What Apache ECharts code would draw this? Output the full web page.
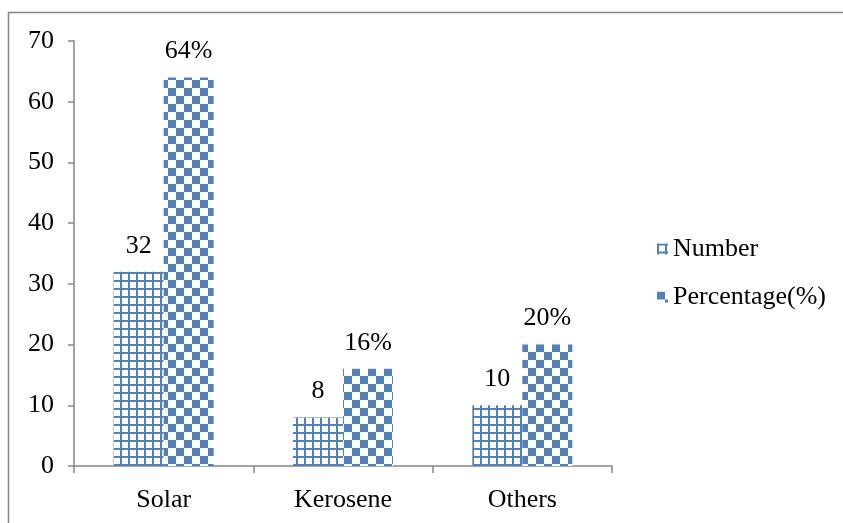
<!DOCTYPE html>
<html><head><meta charset="utf-8">
<script src="https://cdn.jsdelivr.net/npm/echarts@6/dist/echarts.min.js"></script>
<style>html,body{margin:0;padding:0;background:#fff}#c{width:843px;height:523px}</style>
</head><body><div id="c"></div>
<script>
const categories = ['Solar', 'Kerosene', 'Others'];
const numberValues = [32, 8, 10];
const percentValues = [64, 16, 20];
const yTicks = [0, 10, 20, 30, 40, 50, 60, 70];

const BLUE = '#4F81BD';
function gridPattern() {
  const c = document.createElement('canvas');
  c.width = 8; c.height = 8;
  const g = c.getContext('2d');
  g.fillStyle = '#fff'; g.fillRect(0, 0, 8, 8);
  g.fillStyle = BLUE;
  g.fillRect(0, 0, 2, 8);
  g.fillRect(0, 0, 8, 2);
  return c;
}
function checkerPattern() {
  const c = document.createElement('canvas');
  c.width = 16; c.height = 16;
  const g = c.getContext('2d');
  g.fillStyle = '#fff'; g.fillRect(0, 0, 16, 16);
  g.fillStyle = BLUE;
  g.fillRect(0, 0, 8, 8);
  g.fillRect(8, 8, 8, 8);
  return c;
}
const FONT = 'Liberation Serif';
const FS = 26;
const chart = echarts.init(document.getElementById('c'), null, {renderer: 'canvas'});
chart.setOption({
  backgroundColor: '#fff',
  animation: false,
  textStyle: {fontFamily: FONT},
  graphic: [{
    type: 'rect', shape: {x: 8.5, y: 12.5, width: 1000, height: 1000},
    style: {fill: 'none', stroke: '#868686', lineWidth: 1.5}, z: -1
  }],
  grid: {left: 74, right: 231, top: 41, bottom: 57},
  legend: {
    orient: 'vertical', left: 652, top: 231, itemGap: 22,
    itemWidth: 11, itemHeight: 11, icon: 'rect',
    textStyle: {fontFamily: FONT, fontSize: FS, color: '#000', padding: [0, 0, 0, 0]},
    data: ['Number', 'Percentage(%)']
  },
  xAxis: {
    type: 'category', data: categories,
    axisLine: {lineStyle: {color: '#868686', width: 1.5}},
    axisTick: {show: true, length: 7, lineStyle: {color: '#868686', width: 1.5}},
    axisLabel: {fontFamily: FONT, fontSize: FS, color: '#000', margin: 21}
  },
  yAxis: {
    type: 'value', min: yTicks[0], max: yTicks[yTicks.length - 1], interval: 10,
    axisLine: {show: true, lineStyle: {color: '#868686', width: 1.5}},
    axisTick: {show: true, length: 6, lineStyle: {color: '#868686', width: 1.5}},
    splitLine: {show: false},
    axisLabel: {fontFamily: FONT, fontSize: FS, color: '#000', margin: 20}
  },
  series: [{
    name: 'Number', type: 'bar', data: numberValues, barWidth: 50, barGap: '0%',
    itemStyle: {color: {image: gridPattern(), repeat: 'repeat'}},
    label: {show: true, position: 'top', distance: 13, fontFamily: FONT, fontSize: FS, color: '#000'}
  }, {
    name: 'Percentage(%)', type: 'bar', data: percentValues, barWidth: 50, barGap: '0%',
    itemStyle: {color: {image: checkerPattern(), repeat: 'repeat'}},
    label: {show: true, position: 'top', distance: 13, fontFamily: FONT, fontSize: FS, color: '#000', formatter: '{c}%'}
  }]
});
</script></body></html>
